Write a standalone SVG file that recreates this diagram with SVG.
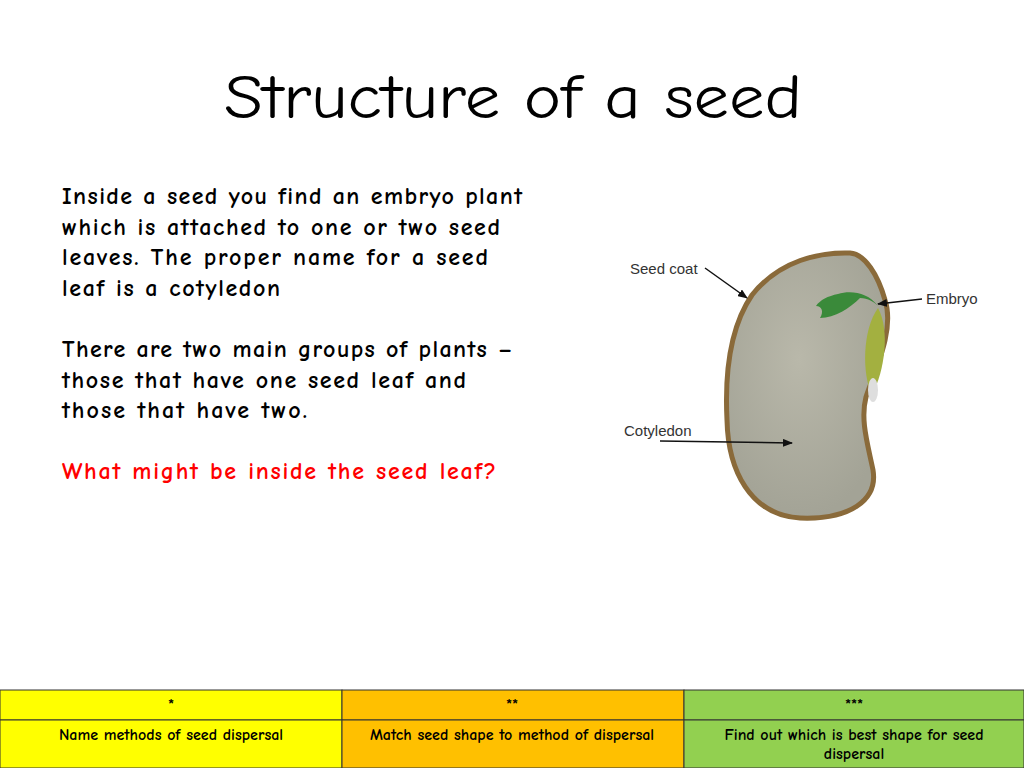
<svg xmlns="http://www.w3.org/2000/svg" width="1024" height="768" viewBox="0 0 1024 768">
<style>
.b{font-family:"Comic Neue","Liberation Sans",sans-serif;font-size:24px;fill:#000;font-weight:bold}
.t{font-family:"Comic Neue","Liberation Sans",sans-serif;font-size:16px;fill:#000;text-anchor:middle;font-weight:bold}
.l{font-family:"Liberation Sans",sans-serif;font-size:15px;fill:#333}
.ln{stroke:#111;stroke-width:1.5;fill:none;marker-end:url(#a)}
</style>
<defs>
<marker id="a" markerWidth="10" markerHeight="8" refX="9" refY="4" orient="auto" markerUnits="userSpaceOnUse"><path d="M0,0L10,4L0,8z" fill="#111"/></marker>
<radialGradient id="g" cx="0.45" cy="0.4" r="0.6"><stop offset="0" stop-color="#b9b8aa"/><stop offset="1" stop-color="#a3a396"/></radialGradient>
</defs>
<rect width="1024" height="768" fill="#fff"/>
<text x="224" y="118" textLength="578" lengthAdjust="spacingAndGlyphs" font-family="Comic Neue,Liberation Sans,sans-serif" font-size="62" fill="#000">Structure of a seed</text>
<g id="text">
<text class="b" x="62" y="204" textLength="460">Inside a seed you find an embryo plant</text>
<text class="b" x="62" y="235" textLength="438">which is attached to one or two seed</text>
<text class="b" x="62" y="265" textLength="426">leaves.  The proper name for a seed</text>
<text class="b" x="62" y="296" textLength="218">leaf is a cotyledon</text>
<text class="b" x="62" y="357" textLength="451">There are two main groups of plants –</text>
<text class="b" x="62" y="388" textLength="404">those that have one seed leaf and</text>
<text class="b" x="62" y="418" textLength="245">those that have two.</text>
<text class="b" x="62" y="479" textLength="434" style="fill:#f00">What might be inside the seed leaf?</text>
</g>
<g id="seed">
<path d="M850,253 C820,252 780,260 752,295 C728,330 725,380 727,420 C728,470 750,515 800,518 C850,520 878,500 873,470 C868,445 860,420 866,397 C875,370 895,330 885,300 C878,275 865,254 850,253 Z" fill="url(#g)" stroke="#8a6a3a" stroke-width="5"/>
<path d="M878,308 C890,330 885,370 872,395 C862,375 862,330 878,308 Z" fill="#a3b040"/>
<ellipse cx="873" cy="390" rx="5" ry="12" fill="#dedede"/>
<path d="M878,306 C868,292 850,290 838,294 C828,296 820,300 816,306 C822,306 824,312 820,318 C835,318 850,308 860,298 C868,298 874,302 878,306 Z" fill="#3a8a3a"/>
</g>
<g id="connectors">
<text class="l" x="630" y="274">Seed coat</text>
<path class="ln" d="M705,268 L747,298"/>
<text class="l" x="926" y="304">Embryo</text>
<path class="ln" d="M922,299 L878,304"/>
<text class="l" x="624" y="436">Cotyledon</text>
<path class="ln" d="M660,441 L792,443"/>
</g>
<g id="table" stroke="#333" stroke-width="1">
<rect x="0" y="690" width="342" height="30" fill="#ffff00"/>
<rect x="342" y="690" width="342" height="30" fill="#ffc000"/>
<rect x="684" y="690" width="340" height="30" fill="#92d050"/>
<rect x="0" y="720" width="342" height="48" fill="#ffff00"/>
<rect x="342" y="720" width="342" height="48" fill="#ffc000"/>
<rect x="684" y="720" width="340" height="48" fill="#92d050"/>
</g>
<g stroke="none">
<text class="t" x="171" y="710">*</text>
<text class="t" x="512" y="710">**</text>
<text class="t" x="854" y="710">***</text>
<text class="t" x="171" y="740">Name methods of seed dispersal</text>
<text class="t" x="512" y="740">Match seed shape to method of dispersal</text>
<text class="t" x="854" y="740">Find out which is best shape for seed</text>
<text class="t" x="854" y="759">dispersal</text>
</g>
</svg>
